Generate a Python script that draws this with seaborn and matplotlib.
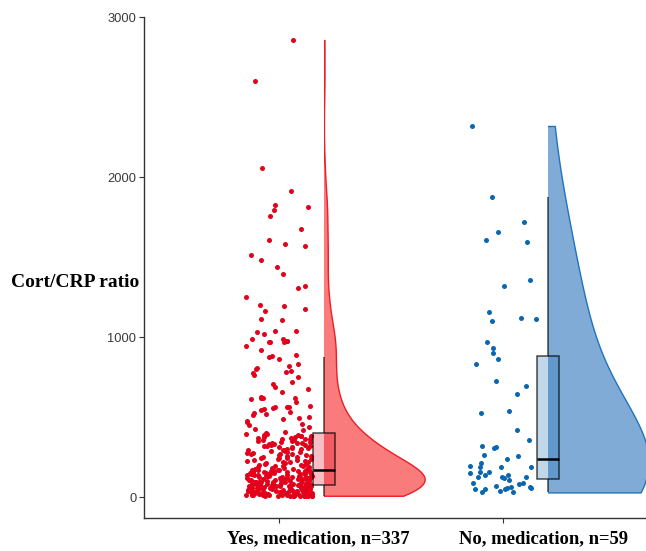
import numpy as np
import pandas as pd
import matplotlib
matplotlib.use("Agg")
import matplotlib.pyplot as plt
import seaborn as sns
from matplotlib.patches import Rectangle

# ---------------- data ----------------
groups = ["Yes, medication, n=337", "No, medication, n=59"]

yes_values = [
    2856, 2600, 2058, 1915, 1825, 1812, 1796, 1756, 1677, 1606,
    1583, 1571, 1512, 1479, 1435, 1392, 1319, 1308, 1250, 1200,
    1194, 1173, 1163, 1112, 1108, 1038, 1035, 1031, 1019, 990,
    986, 976, 974, 972, 971, 969, 946, 921, 885, 883,
    877, 862, 831, 817, 808, 800, 787, 783, 777, 765,
    752, 719, 706, 688, 677, 654, 625, 621, 619, 617,
    612, 592, 567, 565, 564, 562,
    558, 549, 543, 534, 527, 519, 510, 503, 494, 486,
    478, 467, 459, 448, 437, 425, 416, 405,
    398, 395, 392, 390, 387, 384, 382, 379, 376, 373,
    371, 368, 365, 362, 360, 357, 354, 351, 349, 346,
    343, 340, 338, 335, 332, 329, 327, 324, 321, 318,
    316, 313, 310, 307, 305, 302, 299, 296, 294, 291,
    288, 285, 283, 280, 277, 274, 272, 269, 266, 263,
    261, 258, 255, 252, 250, 247, 244, 241, 239, 236,
    233, 230, 228, 225, 222, 219, 217, 214, 211, 208,
    206, 203, 200, 197, 195, 192, 189, 186, 184, 181,
    178, 176, 174, 172,
    170, 169, 168, 166, 165, 164, 163, 162, 160, 159,
    158, 157, 156, 154, 153, 152, 151, 150, 148, 147,
    146, 145, 144, 142, 141, 140, 139, 138, 136, 135,
    134, 133, 132, 130, 129, 128, 127, 126, 124, 123,
    122, 121, 120, 118, 117, 116, 115, 114, 112, 111,
    110, 109, 108, 106, 105, 104, 103, 102, 100, 99,
    98, 97, 96, 94, 93, 92, 91, 90, 88, 87,
    86, 85, 84, 83, 82, 81, 80, 79, 78, 78,
    77, 77, 76, 76, 75,
    74, 73, 72, 71, 70, 69, 68, 67, 66, 65,
    64, 63, 62, 61, 60, 59, 58, 57, 56, 55,
    54, 53, 52, 51, 50, 49, 48, 47, 46, 45,
    44, 43, 42, 41, 40, 39, 38, 37, 36, 35,
    35, 34, 33, 32, 31, 30, 29, 28, 27, 26,
    25, 24, 23, 22, 21, 20, 20, 19, 18, 17,
    16, 16, 15, 14, 14, 13, 13, 12, 12, 11,
    11, 10, 10, 9, 9, 9, 9, 8, 8, 8,
    8, 8, 8, 8,
]

no_values = [
    2319, 1877, 1721, 1654, 1604, 1592, 1356, 1319, 1154, 1119,
    1115, 1102, 971, 933, 898, 865, 831, 725, 692, 644,
    535, 527, 417, 356, 319, 315, 308, 262, 256, 240,
    215, 194, 190, 186, 186, 158, 158, 150, 137, 137,
    123, 123, 123, 117, 106, 85, 85, 79, 71, 65,
    65, 54, 54, 48, 48, 48, 37, 29, 29,
]

y_ticks = [0, 1000, 2000, 3000]
y_label = "Cort/CRP ratio"

# ---------------- style ----------------
point_colors = ["#E3001B", "#0A66B0"]
violin_fill = ["#F97B7B", "#80ABD6"]
violin_edge = ["#EE1C25", "#1F73BD"]
bw_adjusts = [0.85, 1.6]

sns.set_theme(style="white")
plt.rcParams["font.family"] = ["Liberation Sans", "DejaVu Sans"]

df = pd.DataFrame({
    "group": [groups[0]] * len(yes_values) + [groups[1]] * len(no_values),
    "value": yes_values + no_values,
})
pos_map = {groups[0]: 0.0, groups[1]: 1.0}
df["pos"] = df["group"].map(pos_map)

fig = plt.figure(figsize=(6.46, 5.51), dpi=100)
ax = fig.add_axes([0.2229, 0.0599, 0.7771, 0.9092])

shift = 0.2
for i, g in enumerate(groups):
    sub = df[df["group"] == g]
    # rain: jittered points
    sns.stripplot(x=sub["pos"], y=sub["value"], native_scale=True, orient="x",
                  jitter=0.15, size=3.6, color=point_colors[i], linewidth=0,
                  ax=ax, zorder=2)
    # cloud: half violin trimmed to the data range
    nc = len(ax.collections)
    sns.violinplot(x=sub["pos"] + shift, y=sub["value"], native_scale=True,
                   orient="x", cut=0, bw_adjust=bw_adjusts[i],
                   gridsize=400, density_norm="width", width=0.9,
                   inner=None, color=violin_fill[i],
                   linecolor=violin_edge[i], linewidth=1, saturation=1, ax=ax)
    x0 = pos_map[g] + shift
    for c in ax.collections[nc:]:
        c.set_clip_path(Rectangle((x0, -1e5), 10, 2e5, transform=ax.transData))
        c.set_zorder(1)
    # box
    npch = len(ax.patches)
    nln = len(ax.lines)
    sns.boxplot(x=sub["pos"] + shift, y=sub["value"], native_scale=True,
                orient="x", width=0.1, showfliers=False, showcaps=False,
                color=point_colors[i], linecolor="black", linewidth=1.1,
                saturation=1, ax=ax)
    r, gg, b, _ = matplotlib.colors.to_rgba(point_colors[i])
    for p in ax.patches[npch:]:
        p.set_facecolor((r, gg, b, 0.25))
        p.set_edgecolor((0, 0, 0, 0.7))
        p.set_zorder(3)
    for ln in ax.lines[nln:]:
        yd = np.asarray(ln.get_ydata(), dtype=float)
        if len(yd) == 2 and yd[0] == yd[1]:
            ln.set_color("black")
            ln.set_linewidth(1.8)
        else:
            ln.set_color((0, 0, 0, 0.7))
        ln.set_zorder(3)

ax.set_xlim(-0.603, 1.638)
ax.set_ylim(-131, 3000)
ax.set_yticks(y_ticks)
ax.set_yticklabels([str(t) for t in y_ticks])
ax.set_xticks([0, 1])
ax.set_xticklabels(["", ""])
ax.set_xticks([0.175, 1.18], minor=True)
ax.set_xticklabels(groups, minor=True, fontfamily="Liberation Serif",
                   fontweight="bold", fontsize=13.4, color="black")
ax.tick_params(axis="x", which="minor", length=0, pad=9)
ax.tick_params(axis="both", which="major", length=3.5, width=0.8,
               color="#333333", labelsize=9.3, labelcolor="#3A3A3A", pad=2,
               bottom=True, left=True)
ax.set_xlabel("")
ax.set_ylabel(y_label, rotation=0, fontfamily="Liberation Serif",
              fontweight="bold", fontsize=14, color="black", ha="right",
              va="center")
ax.yaxis.set_label_coords(-0.01, 0.471)
for s in ["top", "right"]:
    ax.spines[s].set_visible(False)
for s in ["left", "bottom"]:
    ax.spines[s].set_color("#333333")
    ax.spines[s].set_linewidth(1.0)
ax.grid(False)

fig.savefig("out.png", dpi=100)
